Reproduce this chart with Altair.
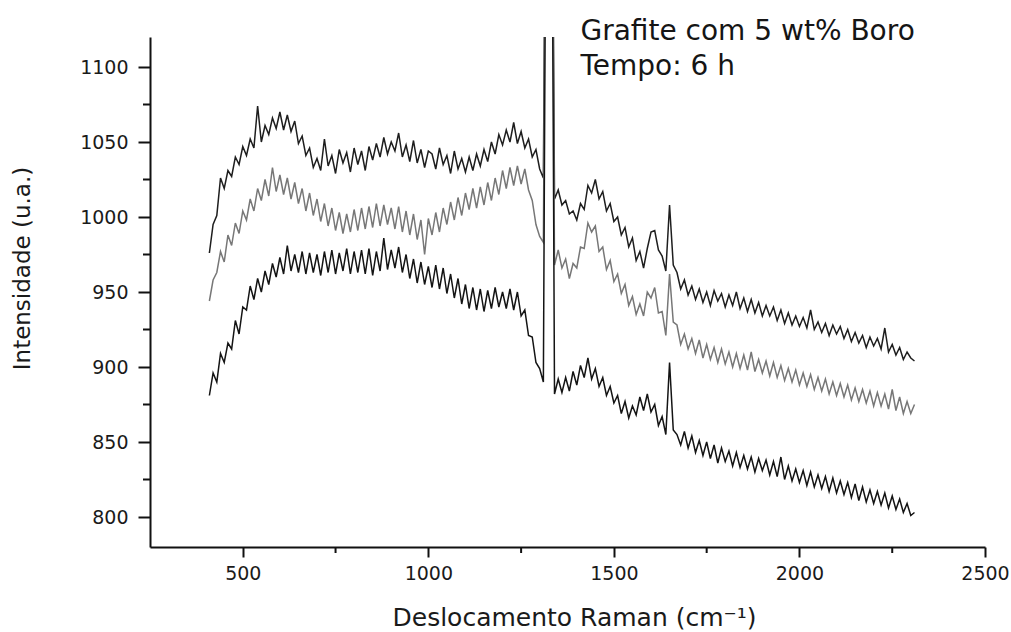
import altair as alt
import pandas as pd

# Raman shift sample grid (cm^-1)
X = list(range(410, 2311, 10))

SERIES = ["superior", "intermediaria", "inferior"]
COLORS = ["#1e1e1e", "#777777", "#141414"]

# upper black spectrum
TOP = [
    976, 995, 1001, 1026, 1019, 1031, 1027, 1040, 1035, 1047,
    1041, 1052, 1046, 1074, 1050, 1061, 1055, 1066, 1059, 1070,
    1058, 1068, 1057, 1064, 1049, 1054, 1041, 1046, 1033, 1039,
    1031, 1052, 1034, 1041, 1029, 1045, 1036, 1043, 1030, 1046,
    1035, 1044, 1031, 1047, 1038, 1049, 1040, 1053, 1042, 1050,
    1044, 1056, 1040, 1048, 1037, 1051, 1036, 1045, 1033, 1044,
    1042, 1032, 1046, 1035, 1041, 1029, 1044, 1032, 1039, 1030,
    1040, 1031, 1042, 1034, 1045, 1037, 1050, 1042, 1055, 1048,
    1058, 1050, 1063, 1049, 1057, 1046, 1052, 1040, 1045, 1032,
    1026, 1400, 1400, 1012, 1018, 1008, 1011, 1002, 1004, 998,
    1009, 1005, 1021, 1016, 1025, 1012, 1017, 1004, 1009, 997,
    1000, 988, 993, 980, 986, 971, 977, 966, 979, 990,
    991, 978, 974, 964, 1008, 968, 963, 952, 958, 948,
    954, 945, 952, 943, 950, 941, 951, 944, 949, 940,
    948, 941, 950, 939, 946, 937, 945, 936, 943, 934,
    941, 934, 940, 931, 938, 929, 936, 928, 934, 927,
    933, 926, 938, 925, 930, 923, 929, 921, 928, 922,
    927, 919, 925, 917, 923, 916, 921, 913, 920, 914,
    919, 912, 926, 910, 915, 908, 913, 905, 910, 906,
    904,
]

# middle grey spectrum
MID = [
    944, 958, 963, 977, 970, 988, 981, 996, 989, 1004,
    998, 1012, 1004, 1019, 1011, 1025, 1014, 1033, 1017, 1028,
    1015, 1026, 1012, 1023, 1009, 1019, 1004, 1016, 1001, 1012,
    997, 1009, 994, 1006, 991, 1003, 989, 1002, 990, 1005,
    991, 1006, 992, 1007, 993, 1009, 994, 1008, 995, 1006,
    992, 1007, 990, 1004, 988, 1002, 985, 998, 975, 999,
    988, 1003, 990, 1006, 995, 1010, 998, 1013, 1001, 1016,
    1005, 1019, 1006, 1020, 1008, 1023, 1011, 1026, 1015, 1031,
    1019, 1033, 1021, 1034, 1022, 1032, 1018, 1011, 995, 987,
    983, 1400, 1400, 968, 978, 966, 972, 959, 969, 966,
    980, 979, 996, 990, 994, 977, 980, 965, 971, 957,
    962, 949, 955, 941, 947, 935, 942, 934, 950, 946,
    953, 936, 937, 921, 962, 930, 928, 915, 922, 912,
    919, 909, 918, 906, 915, 905, 913, 903, 912, 902,
    910, 900, 909, 899, 908, 898, 910, 897, 905, 896,
    904, 894, 903, 893, 901, 891, 899, 890, 898, 888,
    896, 887, 895, 885, 893, 884, 892, 882, 890, 881,
    889, 880, 888, 878, 886, 877, 885, 876, 884, 874,
    883, 874, 882, 872, 885, 871, 880, 869, 877, 869,
    875,
]

# lower black spectrum
BOT = [
    881, 896, 890, 909, 903, 916, 912, 931, 922, 940,
    938, 954, 945, 959, 950, 964, 955, 969, 960, 973,
    962, 981, 964, 975, 963, 977, 962, 976, 963, 975,
    961, 977, 963, 978, 962, 976, 964, 979, 962, 977,
    963, 978, 962, 979, 961, 977, 964, 986, 965, 978,
    966, 980, 963, 975, 959, 972, 956, 970, 955, 967,
    953, 968, 952, 966, 949, 962, 946, 959, 942, 955,
    939, 953, 938, 952, 937, 951, 939, 953, 940, 950,
    939, 952, 938, 950, 934, 938, 921, 920, 903, 899,
    890, 1400, 1400, 882, 892, 883, 893, 884, 897, 888,
    901, 893, 906, 892, 899, 887, 893, 881, 887, 876,
    881, 869, 877, 866, 874, 868, 880, 871, 882, 870,
    875, 861, 867, 855, 903, 858, 855, 848, 857, 846,
    854, 843, 851, 841, 850, 839, 848, 836, 846, 837,
    844, 834, 843, 833, 841, 832, 840, 830, 839, 831,
    838, 828, 837, 827, 840, 825, 834, 824, 832, 823,
    831, 821, 830, 820, 828, 819, 827, 817, 826, 816,
    824, 815, 823, 813, 822, 811, 820, 810, 818, 809,
    817, 808, 816, 806, 814, 805, 812, 803, 809, 801,
    803,
]

X_TICKS = [500, 1000, 1500, 2000, 2500]
X_MINOR = [750, 1250, 1750, 2250]
Y_TICKS = [800, 850, 900, 950, 1000, 1050, 1100]
Y_MINOR = [825, 875, 925, 975, 1025, 1075]
X_DOMAIN = [250, 2500]
Y_DOMAIN = [780, 1120]

NOTE_TEXT = ["Grafite com 5 wt% Boro", "Tempo: 6 h"]
NOTE_X = [1410, 1410]
NOTE_Y = [1118, 1095]

FONT = "DejaVu Sans"

rows = []
for name, vals in zip(SERIES, [TOP, MID, BOT]):
    for xv, yv in zip(X, vals):
        rows.append({"x": xv, "y": yv, "s": name})
df = pd.DataFrame(rows)

xscale = alt.Scale(domain=X_DOMAIN, nice=False, zero=False)
yscale = alt.Scale(domain=Y_DOMAIN, nice=False, zero=False)

X_AXIS = alt.Axis(
    values=X_TICKS, format="d", title="Deslocamento Raman (cm\u207b\u00b9)", tickSize=10,
    labelPadding=7, labelFlush=False, titleX=424, titleY=78, titleAlign="center",
    titleBaseline="alphabetic", titleFontSize=25,
)
Y_AXIS = alt.Axis(
    values=Y_TICKS, format="d", title="Intensidade (u.a.)", tickSize=12,
    labelPadding=10, labelFlush=False, titleX=-128, titleY=231, titleAlign="center",
    titleBaseline="middle", titleAngle=-90, titleFontSize=23,
)

lines = alt.Chart(df).mark_line(clip=True, strokeWidth=1.5).encode(
    x=alt.X("x:Q", scale=xscale, axis=X_AXIS),
    y=alt.Y("y:Q", scale=yscale, axis=Y_AXIS),
    color=alt.Color("s:N", scale=alt.Scale(domain=SERIES, range=COLORS), legend=None),
)

y_minor = alt.Chart(pd.DataFrame({"y": Y_MINOR})).mark_rule(
    color="#111", strokeWidth=2
).encode(
    y=alt.Y("y:Q", scale=yscale, axis=Y_AXIS),
    x=alt.value(-7),
    x2=alt.value(0),
)

x_minor = alt.Chart(pd.DataFrame({"x": X_MINOR})).mark_rule(
    color="#111", strokeWidth=2
).encode(
    x=alt.X("x:Q", scale=xscale, axis=X_AXIS),
    y=alt.value(510),
    y2=alt.value(516),
)

note = alt.Chart(pd.DataFrame({"x": NOTE_X, "y": NOTE_Y, "t": NOTE_TEXT})).mark_text(
    align="left", baseline="alphabetic", font=FONT, fontSize=28, color="#151515"
).encode(
    x=alt.X("x:Q", scale=xscale, axis=X_AXIS),
    y=alt.Y("y:Q", scale=yscale, axis=Y_AXIS),
    text="t:N",
)

chart = alt.layer(lines, y_minor, x_minor, note).properties(
    width=835,
    height=510,
    padding={"left": 150, "top": 37, "right": 26, "bottom": 85},
    autosize=alt.AutoSizeParams(type="none"),
    background="white",
).configure_view(
    stroke=None
).configure_axis(
    grid=False,
    domainColor="#111",
    domainWidth=2,
    tickColor="#111",
    tickWidth=2,
    labelFont=FONT,
    labelFontSize=19,
    labelColor="#1a1a1a",
    titleFont=FONT,
    titleFontWeight="normal",
    titleColor="#1a1a1a",
)

chart.save("out.html", embed_options={"renderer": "svg", "actions": False})
